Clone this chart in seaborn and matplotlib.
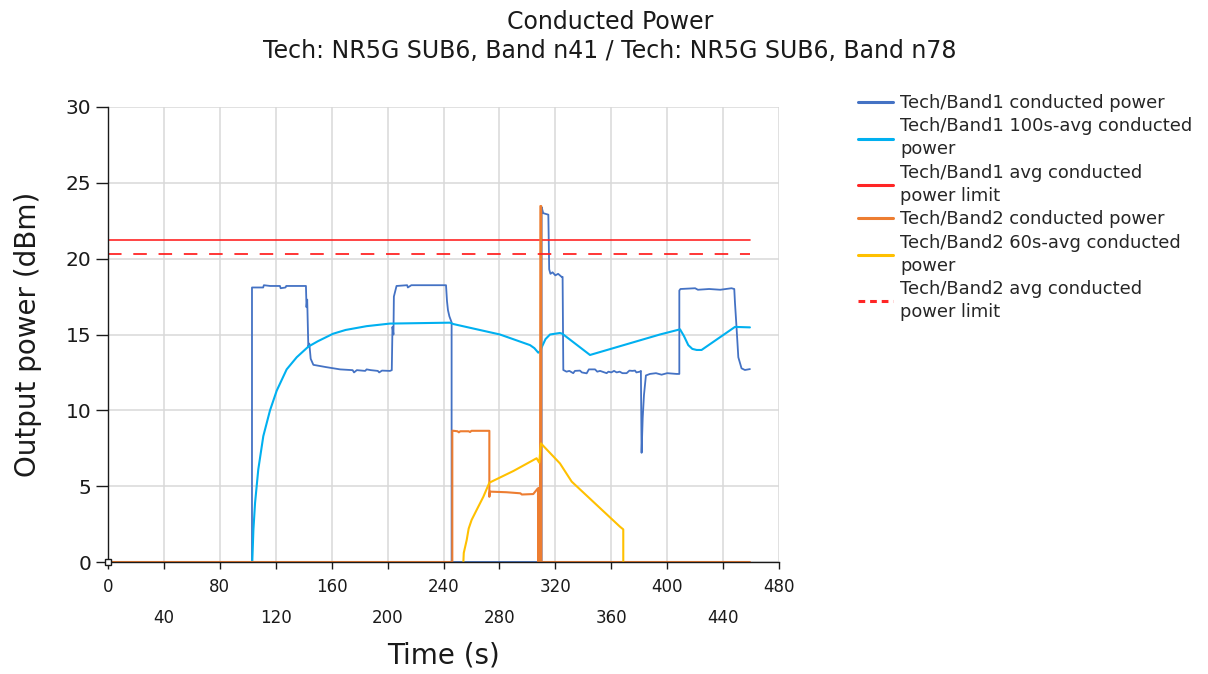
import matplotlib
matplotlib.use("Agg")
import matplotlib.pyplot as plt
from matplotlib.ticker import MultipleLocator
import seaborn as sns

# Values (time in s, power in dBm)
band1_t = [0, 103.0, 103.0, 111, 111.5, 116, 123, 123.5, 127, 127.5, 141.6, 142.0, 142.5,
           143.3, 144.0, 145.0, 146.9, 156, 166, 175, 176, 178, 184, 185, 188, 193, 194,
           196, 201.7, 203.0, 203.5, 204.2, 204.5, 206.4, 214, 214.5, 217, 241.8, 242.5,
           243.2, 244.2, 245.8, 245.8, 310.2, 310.2, 311.3, 315.0, 315.6, 316.5, 318, 320,
           322, 324.5, 325.2, 325.7, 328, 330, 332.8, 334, 337.6, 339, 342.4, 344, 348.4,
           350, 352, 356.7, 358, 360, 362, 363.9, 366, 368, 371, 373, 375, 377, 378, 380.5,
           381.2, 381.7, 382.5, 383.4, 384.8, 387.7, 392, 396, 400, 406.8, 408.7, 408.7,
           409.5, 420, 422, 430, 438, 446, 448.0, 448.5, 449.6, 450.9, 453.2, 455.6, 459.2]
band1_p = [0, 0, 18.1, 18.1, 18.25, 18.2, 18.2, 18.05, 18.1, 18.2, 18.2, 16.8, 17.3,
           14.2, 14.4, 13.4, 13.0, 12.85, 12.7, 12.65, 12.5, 12.65, 12.6, 12.7, 12.65, 12.6, 12.5,
           12.62, 12.6, 12.65, 15.5, 15.0, 17.5, 18.2, 18.25, 18.1, 18.25, 18.25, 17.2,
           16.6, 16.2, 15.8, 0, 0, 23.4, 23.0, 22.9, 19.3, 19.0, 19.1, 18.9,
           19.0, 18.8, 18.8, 12.66, 12.55, 12.6, 12.45, 12.6, 12.62, 12.5, 12.44, 12.7, 12.7,
           12.55, 12.6, 12.45, 12.55, 12.5, 12.6, 12.5, 12.55, 12.45, 12.45, 12.62, 12.6, 12.62, 12.5, 12.55,
           12.6, 7.2, 9.5, 11.0, 12.3, 12.4, 12.45, 12.35, 12.45, 12.4, 12.4, 17.9,
           18.0, 18.05, 17.95, 18.0, 17.95, 18.05, 18.0, 17.1, 15.5, 13.5, 12.77, 12.66, 12.72]

band1_avg_t = [103.2, 104.0, 105.2, 107.5, 111.1, 115.9, 120.7, 127.8, 135.0, 143.3, 150, 161,
               170, 185, 201.7, 244.6, 247.0, 280.4, 301.9, 305, 307.8, 309.0, 310.2, 313,
               316.2, 323.3, 325, 344.8, 394.8, 409.2, 412, 415.1, 418, 421.1, 424.6, 448.5, 459.2]
band1_avg_p = [0.0, 2.1, 3.9, 6.1, 8.3, 10.0, 11.3, 12.7, 13.5, 14.2, 14.55, 15.05,
               15.3, 15.55, 15.72, 15.78, 15.69, 15.0, 14.3, 14.1, 13.8, 13.9, 14.15, 14.7,
               15.0, 15.1, 15.05, 13.65, 15.0, 15.34, 14.9, 14.3, 14.05, 13.98, 13.98, 15.5, 15.47]

band2_t = [0, 246.3, 246.3, 250, 251, 252, 258, 259, 260, 272.8, 272.8, 273.2, 285, 295, 296,
           304.2, 307.0, 307.6, 307.7, 308.2, 308.3, 308.9, 309.0, 309.3, 309.9, 310.0, 459.2]
band2_p = [0, 0, 8.66, 8.62, 8.55, 8.62, 8.62, 8.57, 8.65, 8.65, 4.3, 4.64, 4.6, 4.53, 4.45,
           4.48, 4.8, 4.86, 0, 4.85, 0, 4.9, 0, 23.47, 23.47, 0, 0]

band2_avg_t = [254.2, 254.5, 256.6, 258, 260.1, 263.7, 268.5, 272.8, 290, 306.6, 308.5, 309.7,
               323.3, 331.7, 366.2, 368.6, 368.6]
band2_avg_p = [0.0, 0.6, 1.45, 2.2, 2.77, 3.43, 4.3, 5.23, 6.0, 6.84, 6.55, 7.82,
               6.5, 5.3, 2.33, 2.15, 0.0]

limit_t = [0, 459.2]
band1_limit = [21.23, 21.23]
band2_limit = [20.3, 20.3]

labels = ["Tech/Band1 conducted power",
          "Tech/Band1 100s-avg conducted\npower",
          "Tech/Band1 avg conducted\npower limit",
          "Tech/Band2 conducted power",
          "Tech/Band2 60s-avg conducted\npower",
          "Tech/Band2 avg conducted\npower limit"]

sns.set_theme(style="ticks")
plt.rcParams["font.family"] = ["DejaVu Sans"]

fig = plt.figure(figsize=(12.08, 6.74), dpi=100)
ax = fig.add_axes([108 / 1208, 1 - 562 / 674, 671 / 1208, 455 / 674])

sns.lineplot(x=band1_t, y=band1_p, sort=False, estimator=None, color="#4472C4", lw=1.3, label=labels[0], ax=ax)
sns.lineplot(x=band1_avg_t, y=band1_avg_p, sort=False, estimator=None, color="#00B0F0", lw=1.5, label=labels[1], ax=ax)
sns.lineplot(x=limit_t, y=band1_limit, sort=False, estimator=None, color="#FF2525", lw=1.2, label=labels[2], ax=ax)
sns.lineplot(x=band2_t, y=band2_p, sort=False, estimator=None, color="#ED7D31", lw=1.5, label=labels[3], ax=ax)
sns.lineplot(x=band2_avg_t, y=band2_avg_p, sort=False, estimator=None, color="#FFC000", lw=1.5, label=labels[4], ax=ax)
sns.lineplot(x=limit_t, y=band2_limit, sort=False, estimator=None, color="#FF2525", lw=1.3, label=labels[5], ax=ax)
ax.lines[-1].set_dashes((7.5, 6.5))

ax.set_xlim(0, 480)
ax.set_ylim(0, 30)
ax.xaxis.set_major_locator(MultipleLocator(80))
ax.set_xticks(range(40, 480, 80), minor=True)
ax.set_xticklabels([str(v) for v in range(40, 480, 80)], minor=True)
ax.yaxis.set_major_locator(MultipleLocator(5))

ax.grid(True, which="both", color="#D9D9D9", lw=1.1)
ax.set_axisbelow(True)
sns.despine(ax=ax)
for s in ["left", "bottom"]:
    ax.spines[s].set_color("#1a1a1a")
    ax.spines[s].set_linewidth(1.0)
    ax.spines[s].set_zorder(5)

ax.tick_params(axis="x", which="major", length=5, width=1, pad=6.5, labelsize=12, colors="#1a1a1a")
ax.tick_params(axis="x", which="minor", length=5, width=1, pad=28.5, labelsize=12, colors="#1a1a1a")
ax.tick_params(axis="y", length=8.4, width=1, pad=3.5, labelsize=14.5, colors="#1a1a1a")

# small square at the origin
ax.plot(ax.get_xlim()[0], ax.get_ylim()[0], marker="s", ms=4.5, mfc="white", mec="#1a1a1a",
        mew=1, clip_on=False, zorder=6)

ax.set_xlabel("Time (s)", fontsize=20, labelpad=11, color="#1a1a1a")
ax.set_ylabel("Output power (dBm)", fontsize=20, labelpad=17, color="#1a1a1a")

fig.text(0.505, 0.985, "Conducted Power\nTech: NR5G SUB6, Band n41 / Tech: NR5G SUB6, Band n78",
         ha="center", va="top", fontsize=17, linespacing=1.25, color="#1a1a1a")

leg = ax.legend(loc="upper left", bbox_to_anchor=(858 / 1208, 1 - 94 / 674), bbox_transform=fig.transFigure,
                frameon=False, borderpad=0, borderaxespad=0, handlelength=1.95, handletextpad=0.4,
                labelspacing=0.3, fontsize=12.9)
for t in leg.get_texts():
    t.set_linespacing(1.36)
for h in leg.get_lines():
    h.set_linewidth(2.2)
leg.get_lines()[-1].set_dashes((2.2, 1.6))

fig.savefig("out.png", dpi=100)
